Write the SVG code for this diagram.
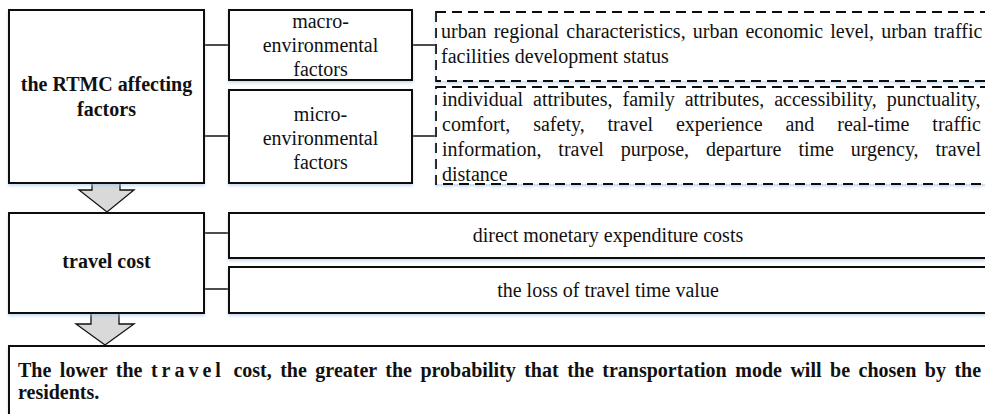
<svg xmlns="http://www.w3.org/2000/svg" width="985" height="414" viewBox="0 0 985 414">
<defs>
<filter id="sh" x="-5%" y="-10%" width="110%" height="130%">
<feDropShadow dx="0" dy="2" stdDeviation="1.5" flood-color="#9dbfe6" flood-opacity="0.55"/>
</filter>
</defs>
<style>
.box{fill:#fff;stroke:#111;stroke-width:2;filter:url(#sh)}
.dbox{fill:#fff;stroke:#111;stroke-width:1.8;stroke-dasharray:10 6;filter:url(#sh)}
.arrow{fill:#d9d9d9;stroke:#111;stroke-width:1.3;stroke-linejoin:miter}
.con line{stroke:#111;stroke-width:1.5}
text{font-family:"Liberation Serif","Times New Roman",serif;font-size:20px;fill:#111}
.b{font-weight:bold}
.c{text-anchor:middle}
</style>
<rect width="985" height="414" fill="#fff"/>
<g class="con">
<line x1="204" y1="45" x2="229" y2="45"/>
<line x1="204" y1="136" x2="229" y2="136"/>
<line x1="412" y1="45" x2="436" y2="45"/>
<line x1="412" y1="136" x2="436" y2="136"/>
<line x1="204" y1="233" x2="229" y2="233"/>
<line x1="204" y1="289" x2="229" y2="289"/>
<polygon class="arrow" points="92,183 120,183 120,190 134,190 107,212 79,190 92,190"/>
<polygon class="arrow" points="91,313 119,313 119,324 134,324 105,345 76,324 91,324"/>
</g>
<g id="rtmc">
<rect class="box" x="9" y="10" width="195" height="173"/>
<text class="b c" x="106.5" y="91">the RTMC affecting</text>
<text class="b c" x="106.5" y="116">factors</text>
</g>
<g id="macro">
<rect class="box" x="229" y="10" width="183" height="70"/>
<text class="c" x="320.5" y="28">macro-</text>
<text class="c" x="320.5" y="52">environmental</text>
<text class="c" x="320.5" y="76">factors</text>
</g>
<g id="micro">
<rect class="box" x="229" y="90" width="183" height="93"/>
<text class="c" x="320.5" y="121">micro-</text>
<text class="c" x="320.5" y="145">environmental</text>
<text class="c" x="320.5" y="169">factors</text>
</g>
<g id="macro-detail">
<rect class="dbox" x="436" y="12" width="560" height="69"/>
<text x="441" y="38" word-spacing="2.1">urban regional characteristics, urban economic level, urban traffic</text>
<text x="441" y="63">facilities development status</text>
</g>
<g id="micro-detail">
<rect class="dbox" x="436" y="87" width="560" height="97"/>
<text x="442" y="106" word-spacing="5">individual attributes, family attributes, accessibility, punctuality,</text>
<text x="442" y="131" word-spacing="17.9">comfort, safety, travel experience and real-time traffic</text>
<text x="442" y="156" word-spacing="11.9">information, travel purpose, departure time urgency, travel</text>
<text x="442" y="181">distance</text>
</g>
<g id="travel-cost">
<rect class="box" x="9" y="213" width="195" height="100"/>
<text class="b c" x="106.5" y="268">travel cost</text>
</g>
<g id="direct">
<rect class="box" x="229" y="213" width="770" height="45"/>
<text class="c" x="608" y="242">direct monetary expenditure costs</text>
</g>
<g id="loss">
<rect class="box" x="229" y="267" width="770" height="46"/>
<text class="c" x="608" y="297">the loss of travel time value</text>
</g>
<g id="conclusion">
<rect class="box" x="9" y="346" width="990" height="80"/>
<text class="b" x="18" y="377" word-spacing="3.5">The lower the <tspan letter-spacing="4">travel</tspan> cost, the greater the probability that the transportation mode will be chosen by the</text>
<text class="b" x="18" y="399">residents.</text>
</g>
</svg>
